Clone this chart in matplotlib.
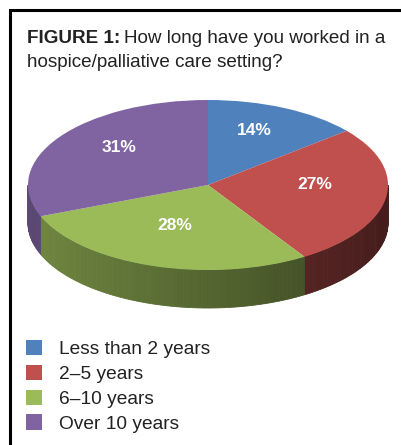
import numpy as np
import matplotlib.pyplot as plt
from matplotlib.patches import Patch
from matplotlib.colors import to_rgb

# Survey answers (percent of respondents)
labels = ["Less than 2 years", "2\u20135 years", "6\u201310 years", "Over 10 years"]
shares = [14, 27, 28, 31]
colors = ["#4f81bd", "#c0504d", "#9bbb59", "#8064a2"]

W, H = 401, 445
font = ["Liberation Sans Narrow", "Liberation Sans", "DejaVu Sans"]

fig = plt.figure(figsize=(W / 100, H / 100), dpi=100)

# background axes in pixel units for frame and title
bg = fig.add_axes([0, 0, 1, 1])
bg.set_xlim(0, W)
bg.set_ylim(H, 0)
bg.axis("off")
bg.plot([10, 10, W], [H, 10, 10], color="black", lw=2.2, solid_joinstyle="miter")

t1 = bg.text(27, 43, "FIGURE 1:", fontsize=13.6, fontweight="bold", family=font,
             va="baseline", color="#222222")
fig.canvas.draw()
x_end = bg.transData.inverted().transform((t1.get_window_extent().x1, 0))[0]
bg.text(x_end + 4, 43, "How long have you worked in a", fontsize=13.6, family=font,
        va="baseline", color="#222222")
bg.text(27, 67, "hospice/palliative care setting?", fontsize=13.6, family=font,
        va="baseline", color="#222222")

# pie axes: squashed so the circle becomes an ellipse
cx, cy, rx, ry = 208, 185, 180, 85
ax = fig.add_axes([(cx - rx) / W, 1 - (cy + ry) / H, 2 * rx / W, 2 * ry / H])

wedges, texts, autotexts = ax.pie(
    shares, colors=colors, startangle=90, counterclock=False,
    autopct="%.0f%%", pctdistance=0.6, wedgeprops=dict(linewidth=0),
    textprops=dict(color="white", fontsize=12.5, fontweight="bold"))
ax.set_xlim(-1, 1)
ax.set_ylim(-1, 1)
ax.set_aspect("auto")
ax.axis("off")

# 3D side wall of the pie
depth = 38 / ry
for w, c in zip(wedges, colors):
    base = np.array(to_rgb(c))
    for k in (-360, 0, 360):
        lo = max(w.theta1, -180 + k)
        hi = min(w.theta2, k)
        if hi <= lo:
            continue
        edges = np.linspace(lo, hi, max(2, int(hi - lo) + 1))
        for a, b in zip(edges[:-1], edges[1:]):
            ra, rb = np.radians(a), np.radians(b)
            mid = np.cos((ra + rb) / 2)
            shade = base * (0.72 - 0.36 * (mid + 1) / 2)
            xs = [np.cos(ra), np.cos(rb), np.cos(rb), np.cos(ra)]
            ys = [np.sin(ra), np.sin(rb), np.sin(rb) - depth, np.sin(ra) - depth]
            ax.fill(xs, ys, color=shade, lw=0.6, clip_on=False, zorder=0)

# nudge the percent labels up a little (perspective of the original)
for t in autotexts:
    t.set_family(font)
    x, y = t.get_position()
    t.set_position((x, y + 0.1))

# legend
handles = [Patch(facecolor=c, edgecolor="none") for c in colors]
leg = fig.legend(handles, labels, loc="upper left",
                 bbox_to_anchor=(26 / W, 1 - 340 / H), frameon=False,
                 prop=dict(family=font, size=13.8), handlelength=0.85,
                 handleheight=0.85, handletextpad=0.85, labelspacing=0.34,
                 borderpad=0, borderaxespad=0)
for t in leg.get_texts():
    t.set_color("#222222")

fig.savefig("out.png", dpi=100)
